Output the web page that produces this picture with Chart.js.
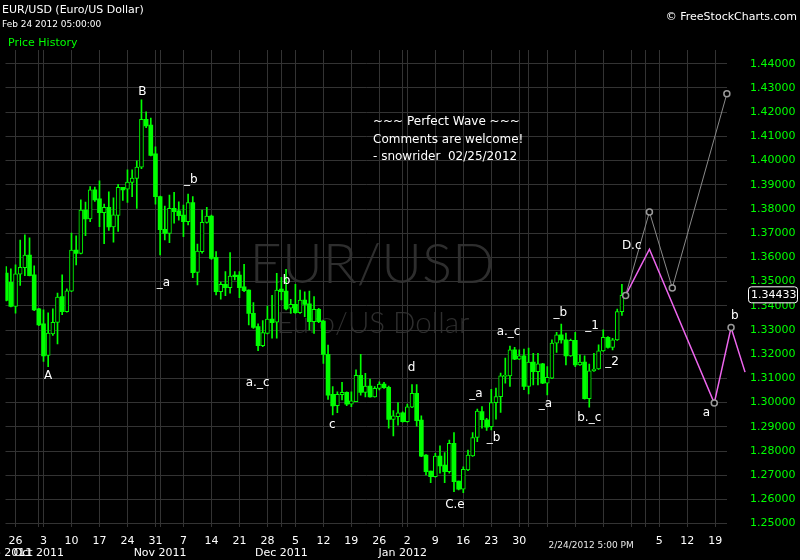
<!DOCTYPE html>
<html><head><meta charset="utf-8">
<script src="https://cdn.jsdelivr.net/npm/chart.js@4"></script>
<style>html,body{margin:0;padding:0;background:#000;overflow:hidden}canvas{display:block}</style>
</head><body>
<canvas id="c" width="800" height="560"></canvas>
<script>
// ---- Daily bars (6 per week, Sun-Fri), bar 0 = Fri Sep 23 2011 ... bar 132 = Fri Feb 24 2012
const barOpen = [1.3535,1.3497,1.3397,1.3531,1.3558,1.3610,1.3528,1.3387,1.3325,1.3195,1.3284,1.3331,1.3438,1.3376,1.3460,1.3630,1.3616,1.3796,1.3759,1.3879,
1.3842,1.3785,1.3807,1.3726,1.3773,1.3890,1.3882,1.3910,1.3926,1.3973,1.4171,1.4147,1.4028,1.3851,1.3716,1.3699,1.3803,1.3792,1.3775,1.3748,
1.3827,1.3538,1.3624,1.3745,1.3771,1.3600,1.3458,1.3489,1.3475,1.3527,1.3527,1.3478,1.3465,1.3369,1.3314,1.3235,1.3286,1.3345,1.3332,1.3469,
1.3461,1.3390,1.3406,1.3372,1.3424,1.3408,1.3334,1.3385,1.3337,1.3199,1.3034,1.2987,1.3033,1.3042,1.2994,1.3004,1.3113,1.3042,1.3068,1.3024,
1.3059,1.3077,1.3063,1.2931,1.2942,1.2958,1.2921,1.2981,1.3038,1.2928,1.2783,1.2717,1.2694,1.2779,1.2742,1.2715,1.2832,1.2676,1.2642,1.2722,
1.2780,1.2856,1.2963,1.2929,1.2901,1.3000,1.3025,1.3108,1.3110,1.3218,1.3179,1.3193,1.3067,1.3167,1.3128,1.3160,1.3080,1.3101,1.3246,1.3280,
1.3259,1.3193,1.3257,1.3156,1.3167,1.3016,1.3131,1.3139,1.3214,1.3270,1.3228,1.3259,1.3376];
const barHigh = [1.3562,1.3553,1.3569,1.3672,1.3693,1.3681,1.3565,1.3390,1.3383,1.3371,1.3387,1.3453,1.3528,1.3470,1.3700,1.3689,1.3838,1.3829,1.3893,1.3891,
1.3916,1.3820,1.3871,1.3846,1.3902,1.3890,1.3962,1.3962,1.3999,1.4251,1.4201,1.4176,1.4057,1.3853,1.3812,1.3858,1.3869,1.3830,1.3816,1.3862,
1.3851,1.3655,1.3796,1.3807,1.3775,1.3624,1.3498,1.3541,1.3620,1.3541,1.3541,1.3571,1.3466,1.3413,1.3325,1.3339,1.3399,1.3443,1.3534,1.3518,
1.3551,1.3427,1.3489,1.3465,1.3458,1.3461,1.3438,1.3390,1.3340,1.3238,1.3066,1.3045,1.3084,1.3045,1.3045,1.3135,1.3199,1.3121,1.3097,1.3066,
1.3086,1.3084,1.3068,1.2967,1.3000,1.2962,1.2994,1.3075,1.3075,1.2945,1.2785,1.2717,1.2790,1.2821,1.2793,1.2845,1.2876,1.2676,1.2735,1.2804,
1.2876,1.2973,1.2984,1.2935,1.3055,1.3060,1.3122,1.3184,1.3234,1.3228,1.3218,1.3221,1.3225,1.3204,1.3204,1.3162,1.3149,1.3259,1.3290,1.3324,
1.3287,1.3262,1.3290,1.3197,1.3193,1.3159,1.3204,1.3239,1.3301,1.3273,1.3266,1.3386,1.3489];
const barLow = [1.3420,1.3395,1.3370,1.3484,1.3525,1.3523,1.3380,1.3318,1.3170,1.3149,1.3278,1.3243,1.3363,1.3374,1.3458,1.3569,1.3614,1.3690,1.3748,1.3831,
1.3727,1.3657,1.3711,1.3663,1.3707,1.3835,1.3827,1.3851,1.3802,1.3967,1.4136,1.4019,1.3820,1.3610,1.3672,1.3661,1.3741,1.3754,1.3686,1.3734,
1.3516,1.3486,1.3617,1.3741,1.3592,1.3445,1.3427,1.3442,1.3452,1.3507,1.3434,1.3458,1.3321,1.3307,1.3215,1.3231,1.3284,1.3266,1.3266,1.3424,
1.3383,1.3369,1.3369,1.3369,1.3355,1.3300,1.3286,1.3330,1.3162,1.3013,1.2949,1.2958,1.3011,1.2987,1.2983,1.3004,1.3031,1.3024,1.3022,1.3022,
1.3052,1.3059,1.2894,1.2862,1.2907,1.2919,1.2919,1.2979,1.2903,1.2777,1.2701,1.2669,1.2692,1.2708,1.2669,1.2708,1.2632,1.2639,1.2628,1.2719,
1.2778,1.2839,1.2894,1.2885,1.2887,1.2932,1.2959,1.3080,1.3067,1.3177,1.3177,1.3053,1.3036,1.3073,1.3073,1.3078,1.3032,1.3099,1.3207,1.3246,
1.3156,1.3191,1.3149,1.3154,1.3014,1.2981,1.3129,1.3137,1.3211,1.3225,1.3218,1.3257,1.3360];
const barClose = [1.3422,1.3397,1.3532,1.3559,1.3610,1.3525,1.3383,1.3321,1.3193,1.3287,1.3332,1.3436,1.3376,1.3462,1.3630,1.3616,1.3796,1.3759,1.3879,1.3838,
1.3785,1.3807,1.3726,1.3776,1.3890,1.3879,1.3911,1.3928,1.3973,1.4171,1.4143,1.4021,1.3851,1.3715,1.3699,1.3803,1.3789,1.3772,1.3748,1.3827,
1.3537,1.3626,1.3745,1.3771,1.3596,1.3458,1.3489,1.3475,1.3523,1.3520,1.3475,1.3463,1.3369,1.3311,1.3235,1.3289,1.3345,1.3330,1.3465,1.3458,
1.3387,1.3406,1.3372,1.3424,1.3406,1.3334,1.3385,1.3334,1.3199,1.3031,1.2986,1.3034,1.3042,1.2994,1.3007,1.3113,1.3042,1.3068,1.3024,1.3059,
1.3077,1.3062,1.2931,1.2945,1.2958,1.2921,1.2983,1.3038,1.2925,1.2779,1.2715,1.2694,1.2779,1.2738,1.2715,1.2832,1.2673,1.2642,1.2724,1.2783,
1.2856,1.2965,1.2929,1.2899,1.3000,1.3025,1.3111,1.3113,1.3218,1.3179,1.3193,1.3067,1.3167,1.3128,1.3160,1.3080,1.3104,1.3246,1.3280,1.3259,
1.3193,1.3257,1.3156,1.3167,1.3016,1.3131,1.3139,1.3214,1.3270,1.3228,1.3259,1.3376,1.34433];

// ---- Projected wave paths (bar position, price)
const projGrayBar = [132.8, 137.9, 142.8, 154.5];
const projGrayPrice = [1.3443, 1.3788, 1.3474, 1.4276];
const projPinkBar = [132.8, 137.9, 151.8, 155.4, 158.4];
const projPinkPrice = [1.3443, 1.3634, 1.2998, 1.3310, 1.3126];

// ---- Axis ticks
const weekTickBars = [2,8,14,20,26,32,38,44,50,56,62,68,74,80,86,92,98,104,110,116,122,128,134,140,146,152];
const weekTickLabels = ['26','3','10','17','24','31','7','14','21','28','5','12','19','26','2','9','16','23','30','','','','','5','12','19'];
const monthGridBars = [7,33,59,85,112,137];
const monthLabelBars = [0,7,33,59,85];
const monthLabels = ['Sep 2011','Oct 2011','Nov 2011','Dec 2011','Jan 2012'];
const priceTicks = [1.25,1.26,1.27,1.28,1.29,1.30,1.31,1.32,1.33,1.34,1.35,1.36,1.37,1.38,1.39,1.40,1.41,1.42,1.43,1.44];

// ---- Wave labels (bar position, price)
const waveText = ['A','B','_b','_a','b','a._c','c','d','_a','_b','C.e','a._c','_b','_a','_1','_2','b._c','D.c','a','b'];
const waveBar = [9.0,29.2,39.6,33.7,60.1,53.9,69.9,86.9,100.7,104.5,96.2,107.7,118.8,115.6,125.6,129.9,125.0,134.1,150.1,156.2];
const wavePrice = [1.3111,1.4283,1.3920,1.3494,1.3502,1.3081,1.2907,1.3143,1.3036,1.2854,1.2577,1.3292,1.3370,1.2994,1.3317,1.3168,1.2936,1.3646,1.2957,1.3358];

const commentLines = ['~~~ Perfect Wave ~~~','Comments are welcome!','- snowrider  02/25/2012'];

const LIME = '#00ff00';
const GRID = '#333333';
const X_MIN = -0.149, X_MAX = 154.53;
const Y_MIN = 1.2486, Y_MAX = 1.4457;
const FONT = '"DejaVu Sans", Verdana, sans-serif';
Chart.defaults.font.family = FONT;

const isUp = i => barClose[i] >= barOpen[i];

const textPlugin = {
  id: 'texts',
  beforeDraw(chart) {
    const ctx = chart.ctx;
    ctx.save();
    ctx.fillStyle = '#000';
    ctx.fillRect(0, 0, chart.width, chart.height);
    // watermark
    ctx.fillStyle = '#2e2e2e';
    ctx.textAlign = 'center';
    ctx.textBaseline = 'middle';
    const fit = (txt, target, base, fam) => {
      ctx.font = '300 ' + base + 'px ' + fam;
      const w = ctx.measureText(txt).width;
      return base * target / w;
    };
    const fam = 'Lato, "Open Sans", sans-serif';
    let s1 = fit('EUR/USD', 245, 55, fam);
    ctx.font = '300 ' + s1 + 'px ' + fam;
    ctx.fillText('EUR/USD', 372, 265);
    let s2 = fit('Euro/US Dollar', 193, 28, fam);
    ctx.font = '300 ' + s2 + 'px ' + fam;
    ctx.fillText('Euro/US Dollar', 373, 323);
    ctx.restore();
  },
  afterDraw(chart) {
    const ctx = chart.ctx;
    const xs = chart.scales.x, ys = chart.scales.y;
    ctx.save();
    ctx.textBaseline = 'middle';
    // header
    ctx.fillStyle = '#fff';
    ctx.textAlign = 'left';
    ctx.font = '11px ' + FONT;
    ctx.fillText('EUR/USD (Euro/US Dollar)', 2, 10);
    ctx.font = '9px ' + FONT;
    ctx.fillText('Feb 24 2012 05:00:00', 2, 25);
    ctx.fillStyle = LIME;
    ctx.font = '11px ' + FONT;
    ctx.fillText('Price History', 8, 43);
    ctx.fillStyle = '#fff';
    ctx.textAlign = 'right';
    ctx.fillText('\u00A9 FreeStockCharts.com', 797, 17);
    // comments
    ctx.textAlign = 'left';
    ctx.font = '12px ' + FONT;
    commentLines.forEach((t, k) => ctx.fillText(t, 373, 122 + k * 17.5));
    // wave labels
    ctx.textAlign = 'center';
    waveText.forEach((t, k) => {
      ctx.fillText(t, xs.getPixelForValue(waveBar[k]), ys.getPixelForValue(wavePrice[k]));
    });
    // month labels
    ctx.font = '11px ' + FONT;
    monthLabels.forEach((t, k) => ctx.fillText(t, xs.getPixelForValue(monthLabelBars[k]), 553));
    // cursor time label
    ctx.font = '9px ' + FONT;
    ctx.fillStyle = '#e8e8e8';
    ctx.fillText('2/24/2012 5:00 PM', xs.getPixelForValue(125.4), 546);
    // last price box
    const last = barClose[barClose.length - 1];
    const py = ys.getPixelForValue(last);
    ctx.beginPath();
    ctx.roundRect(748.5, py - 8.5, 49, 16, 3);
    ctx.fillStyle = '#000';
    ctx.fill();
    ctx.strokeStyle = '#fff';
    ctx.lineWidth = 1;
    ctx.stroke();
    ctx.fillStyle = '#fff';
    ctx.font = '11px ' + FONT;
    ctx.textAlign = 'left';
    ctx.fillText(last.toFixed(5), 751, py);
    ctx.restore();
  }
};

new Chart(document.getElementById('c'), {
  type: 'bar',
  data: {
    datasets: [
      {
        type: 'line', label: 'proj1', order: 0, clip: false,
        data: projGrayBar.map((b, k) => ({x: b, y: projGrayPrice[k]})),
        borderColor: '#8a8a8a', borderWidth: 1, tension: 0,
        pointRadius: 3, pointBorderColor: '#9a9a9a', pointBackgroundColor: '#000', pointBorderWidth: 1.5
      },
      {
        type: 'line', label: 'proj2', order: 1, clip: false,
        data: projPinkBar.map((b, k) => ({x: b, y: projPinkPrice[k]})),
        borderColor: '#ee66ee', borderWidth: 1.5, tension: 0,
        pointRadius: [0, 0, 3, 3, 0], pointBorderColor: '#9a9a9a', pointBackgroundColor: '#000', pointBorderWidth: 1.5
      },
      {
        label: 'body', order: 2, grouped: false, barThickness: 4,
        data: barOpen.map((o, i) => ({x: i, y: [o, barClose[i]]})),
        backgroundColor: ctx => isUp(ctx.dataIndex) ? '#000' : LIME,
        borderColor: LIME,
        borderWidth: ctx => isUp(ctx.dataIndex) ? 1 : 0,
        borderSkipped: false
      },
      {
        label: 'wick', order: 3, grouped: false, barThickness: 1,
        data: barLow.map((l, i) => ({x: i, y: [l, barHigh[i]]})),
        backgroundColor: LIME, borderWidth: 0
      }
    ]
  },
  options: {
    responsive: false,
    animation: false,
    devicePixelRatio: 1,
    layout: {padding: {top: 50, left: 0, right: 0, bottom: 0}},
    plugins: {legend: {display: false}, tooltip: {enabled: false}},
    scales: {
      x: {
        type: 'linear', position: 'bottom', offset: false, bounds: 'data',
        afterDataLimits: s => { s.min = X_MIN; s.max = X_MAX; },
        afterBuildTicks: s => {
          s.ticks = [...weekTickBars, ...monthGridBars].sort((a, b) => a - b).map(v => ({value: v}));
          s.min = X_MIN; s.max = X_MAX;
        },
        afterFit: s => { s.height = 33; },
        grid: {color: GRID, lineWidth: 1, drawTicks: false, offset: false},
        border: {display: false},
        ticks: {
          autoSkip: false, maxRotation: 0, minRotation: 0, padding: 8,
          color: '#fff', font: {size: 11, family: FONT},
          callback: v => { const k = weekTickBars.indexOf(v); return k >= 0 ? weekTickLabels[k] : ''; }
        }
      },
      y: {
        type: 'linear', position: 'right', min: Y_MIN, max: Y_MAX, bounds: 'data',
        afterBuildTicks: s => { s.ticks = priceTicks.map(v => ({value: v})); s.min = Y_MIN; s.max = Y_MAX; },
        afterFit: s => { s.width = 73; },
        grid: {color: GRID, lineWidth: 1, drawTicks: false},
        border: {display: false},
        ticks: {
          padding: 23, color: LIME, font: {size: 11, family: FONT},
          callback: v => Number(v).toFixed(5)
        }
      }
    }
  },
  plugins: [textPlugin]
});
</script>
</body></html>
